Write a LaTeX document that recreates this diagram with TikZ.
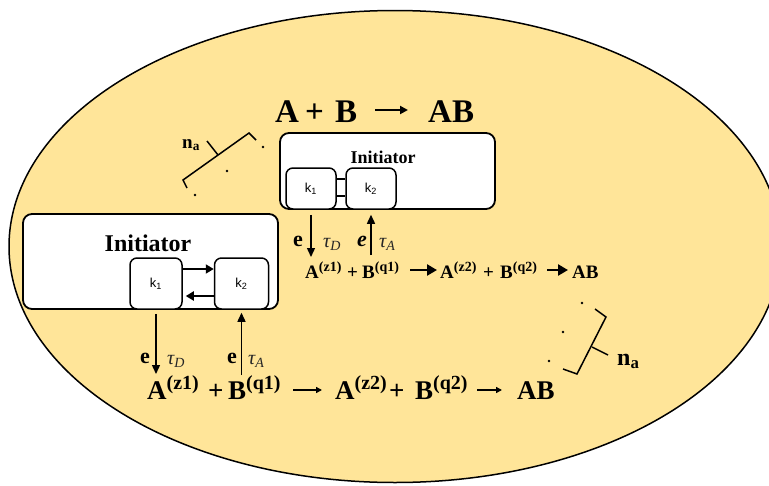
\documentclass[tikz,border=0pt]{standalone}
\usepackage{fontspec}
\setmainfont{Liberation Serif}
\setsansfont{Liberation Sans}
\usetikzlibrary{arrows.meta}
\definecolor{cellfill}{HTML}{FFE599}
\newcommand\supbig[1]{\textsuperscript{\fontsize{20}{20}\selectfont #1}}
\newcommand\supmid[1]{\textsuperscript{\fontsize{14}{14}\selectfont #1}}
\begin{document}
\begin{tikzpicture}[x=1pt,y=-1pt,
  bigbox/.style={draw,line width=1.8pt,rounded corners=9pt,fill=white,inner sep=0pt},
  kbox/.style={draw,line width=1.5pt,rounded corners=7pt,fill=white,inner sep=0pt,
    font=\sffamily\fontsize{13}{13}\selectfont},
  txt/.style={inner sep=0pt,anchor=base west},
  tfont/.style={txt,font=\bfseries\fontsize{33}{33}\selectfont},
  mfont/.style={txt,font=\bfseries\fontsize{19}{19}\selectfont},
  bfont/.style={txt,font=\bfseries\fontsize{27}{27}\selectfont},
  elab/.style={txt,font=\bfseries\fontsize{22}{22}\selectfont},
  taulab/.style={txt,font=\itshape\fontsize{20}{20}\selectfont,text=black!85},
  varr/.style={line width=1.4pt,-{Triangle[length=9pt,width=8pt]}},
  harr/.style={line width=1.8pt,-{Triangle[length=8pt,width=9pt]}},
  marr/.style={line width=2.5pt,-{Triangle[length=10pt,width=11pt]}},
  barr/.style={line width=1.6pt,-{Triangle[length=6pt,width=6pt]}},
  tarr/.style={line width=2pt,-{Triangle[length=8pt,width=8pt]}},
  brk/.style={line width=1.5pt},
  dotp/.style={fill=black}
]
\useasboundingbox (0,0) rectangle (769,485);
\begin{scope}
  \clip (0,0) rectangle (769,485);
  \draw[fill=cellfill,line width=1.5pt] (395,246.5) ellipse [x radius=386, y radius=236];
\end{scope}

% top formula
\node[tfont] (At) at (275,122) {A};
\node[tfont] (Pt) at (305,122) {+};
\node[tfont] (Bt) at (335,122) {B};
\node[tfont] (ABt) at (428,122) {AB};
\draw[tarr] ([xshift=40pt,yshift=12pt]Bt.base west) -- ([xshift=-20pt,yshift=12pt]ABt.base west);

% top initiator
\node[bigbox,minimum width=215pt,minimum height=76pt] (initT) at (387.5,171) {};
\node[font=\bfseries\fontsize{18}{18}\selectfont] (labT) at (383,157) {Initiator};
\node[kbox,minimum width=50pt,minimum height=41pt] (k1t) at (311,188.5) {k\textsubscript{1}};
\node[kbox,minimum width=50pt,minimum height=41pt] (k2t) at (371,188.5) {k\textsubscript{2}};
\draw[line width=1.2pt] ([yshift=9.5pt]k1t.east) -- ([yshift=9.5pt]k2t.west);
\draw[line width=1.2pt] ([yshift=-7.5pt]k1t.east) -- ([yshift=-7.5pt]k2t.west);

% middle reaction
\node[mfont] (Am1) at (305,278) {A\supmid{(z1)}};
\node[mfont] (Pm1) at (347,278) {+};
\node[mfont] (Bm1) at (362,278) {B\supmid{(q1)}};
\node[mfont] (Am2) at (440,278) {A\supmid{(z2)}};
\node[mfont] (Pm2) at (483,278) {+};
\node[mfont] (Bm2) at (500,278) {B\supmid{(q2)}};
\node[mfont] (ABm) at (572,278) {AB};
\draw[marr] ([xshift=48pt,yshift=8pt]Bm1.base west) -- ([xshift=-3pt,yshift=8pt]Am2.base west);
\draw[marr] ([xshift=47pt,yshift=8pt]Bm2.base west) -- ([xshift=-4pt,yshift=8pt]ABm.base west);

% top vertical arrows and labels
\draw[varr] ([yshift=-5pt]k1t.south) -- ([xshift=6pt,yshift=21pt]Am1.base west);
\draw[varr] ([xshift=9pt,yshift=23pt]Bm1.base west) -- ([yshift=-5pt]k2t.south);
\node[elab] (e1t) at (293,246) {e};
\node[elab,font=\bfseries\itshape\fontsize{22}{22}\selectfont] (e2t) at (357,246) {e};
\node[taulab] (tDt) at (323,247) {τ\textsubscript{D}};
\node[taulab] (tAt) at (379,247) {τ\textsubscript{A}};

% left initiator
\node[bigbox,minimum width=255pt,minimum height=95pt] (initL) at (150.5,261.5) {};
\node[font=\bfseries\fontsize{24}{24}\selectfont] (labL) at (148,243) {Initiator};
\node[kbox,minimum width=52pt,minimum height=51pt] (k1l) at (156,283.5) {k\textsubscript{1}};
\node[kbox,minimum width=54pt,minimum height=51pt] (k2l) at (241.5,283.5) {k\textsubscript{2}};
\draw[harr] ([yshift=14.5pt]k1l.east) -- ([yshift=14.5pt]k2l.west);
\draw[harr] ([yshift=-12.5pt]k2l.west) -- ([xshift=3pt,yshift=-12.5pt]k1l.east);

% bottom reaction
\node[bfont] (Ab1) at (147,399) {A\supbig{(z1)}};
\node[bfont] (Pb1) at (208,399) {+};
\node[bfont] (Bb1) at (228,399) {B\supbig{(q1)}};
\node[bfont] (Ab2) at (335,399) {A\supbig{(z2)}};
\node[bfont] (Pb2) at (389,399) {+};
\node[bfont] (Bb2) at (415,399) {B\supbig{(q2)}};
\node[bfont] (ABb) at (517,399) {AB};
\draw[barr] ([xshift=65pt,yshift=9pt]Bb1.base west) -- ([xshift=-13pt,yshift=9pt]Ab2.base west);
\draw[barr] ([xshift=62pt,yshift=9pt]Bb2.base west) -- ([xshift=-15pt,yshift=9pt]ABb.base west);

% bottom vertical arrows and labels
\draw[varr] ([yshift=-4pt]k1l.south) -- ([xshift=9pt,yshift=25pt]Ab1.base west);
\draw[varr] ([xshift=13.5pt,yshift=24pt]Bb1.base west) -- ([yshift=-3pt]k2l.south);
\node[elab] (e1b) at (140,363) {e};
\node[elab] (e2b) at (227,363) {e};
\node[taulab] (tDb) at (167,364) {τ\textsubscript{D}};
\node[taulab] (tAb) at (248,364) {τ\textsubscript{A}};

% top-left bracket
\draw[brk] (256,140) -- (249,133) -- (183,180) -- (187,188);
\draw[brk] (218,155) -- (207,141);
\node[txt,font=\bfseries\fontsize{19}{19}\selectfont] (naT) at (182,148) {n\textsubscript{a}};
\fill[dotp] (263,147) circle (1.3pt);
\fill[dotp] (227,171) circle (1.3pt);
\fill[dotp] (195,195) circle (1.3pt);

% right bracket
\draw[brk] (595,309) -- (606,317) -- (577,374) -- (563,369);
\draw[brk] (592,347) -- (608,355);
\node[txt,font=\bfseries\fontsize{24}{24}\selectfont] (naR) at (617,365) {n\textsubscript{a}};
\fill[dotp] (582,303) circle (1.3pt);
\fill[dotp] (563,332) circle (1.3pt);
\fill[dotp] (549,361) circle (1.3pt);
\end{tikzpicture}
\end{document}
